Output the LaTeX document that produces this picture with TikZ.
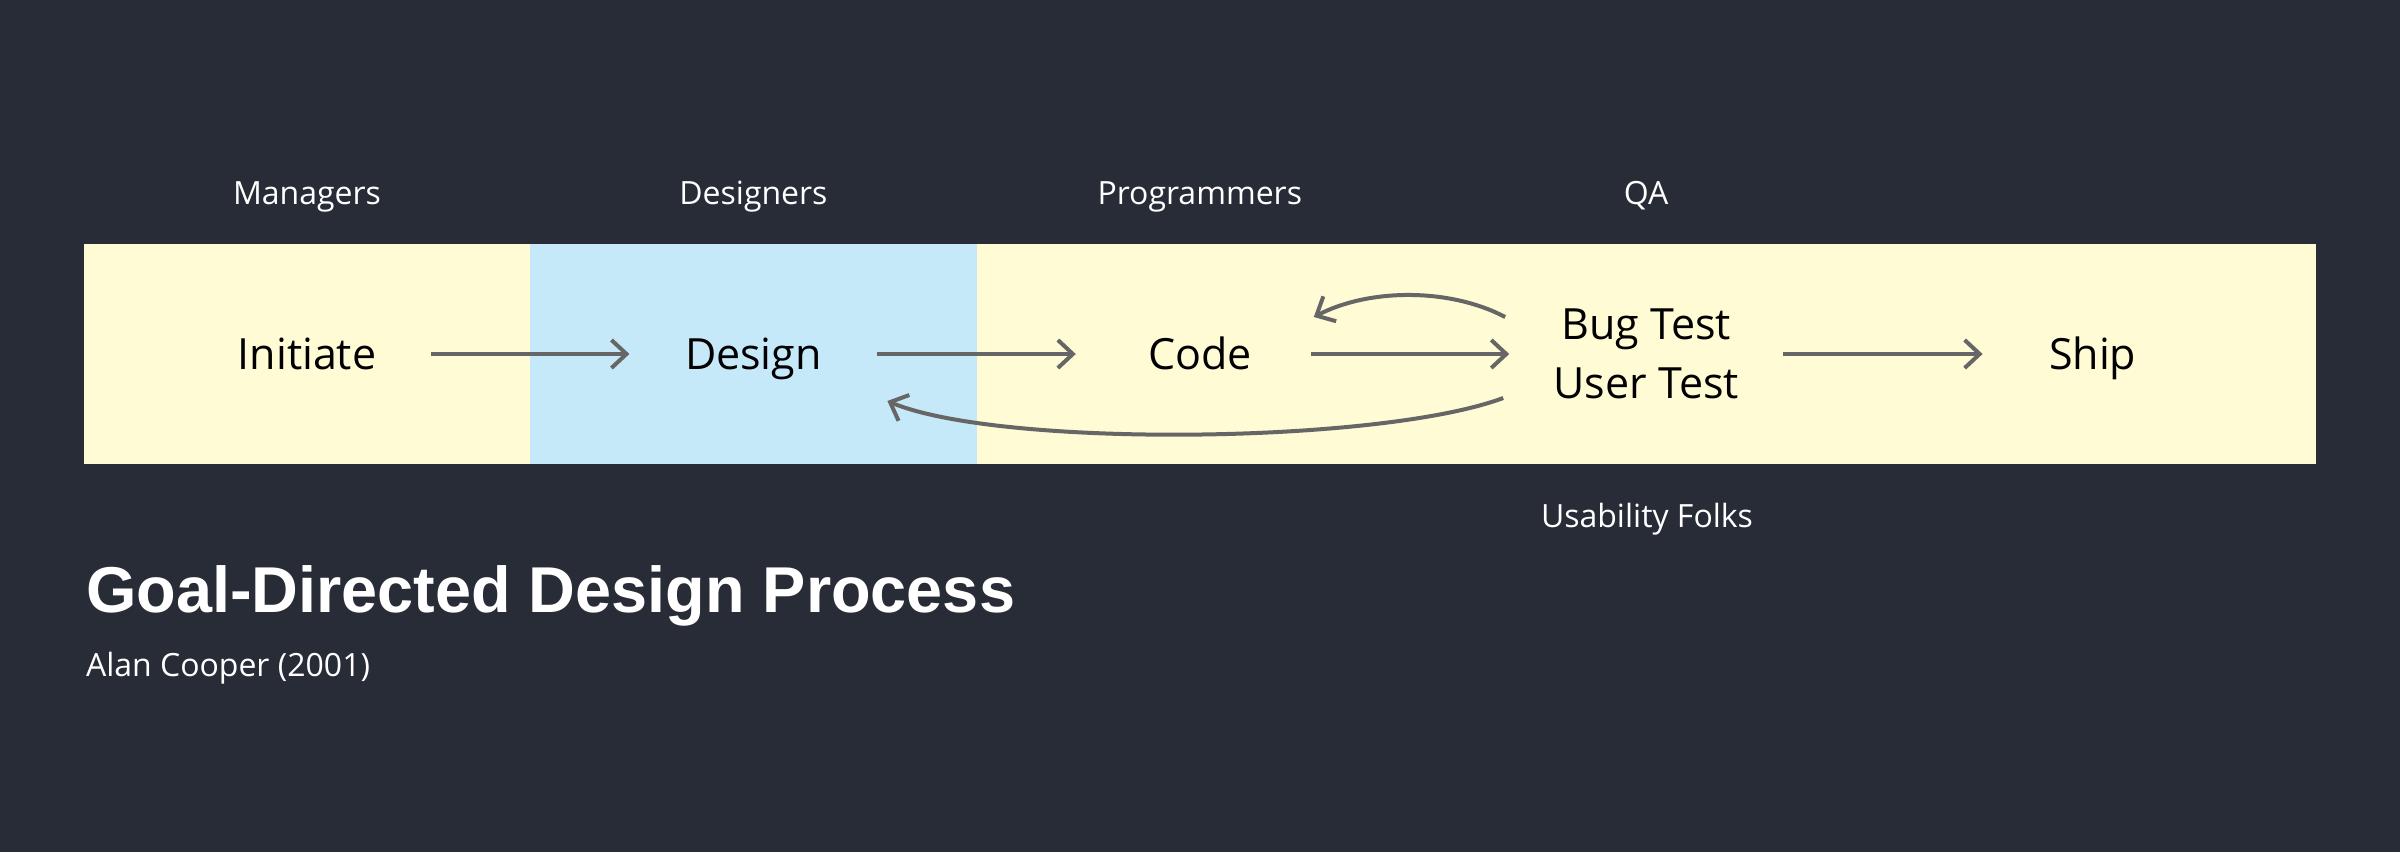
\documentclass[tikz,border=0pt]{standalone}
\usepackage{fontspec}
\setmainfont{Open Sans}
\newfontfamily\titlefont{Liberation Sans}
\usetikzlibrary{arrows.meta,calc}
\definecolor{BgColor}{HTML}{282C37}
\definecolor{LaneYellow}{HTML}{FFFBD5}
\definecolor{LaneBlue}{HTML}{C6E9F9}
\definecolor{ArrowGray}{HTML}{666666}

\begin{document}
\begin{tikzpicture}[
        %Environment config
        x=0.5pt, y=-0.5pt,
        line width=2pt,
        %Environment styles
        StageCfg/.style={
            font=\fontsize{21.5}{29.5}\selectfont,
            text=black,
            inner sep=0pt,
            minimum width=122pt,
            text height=15.4pt,
            text depth=0pt
        },
        TestCfg/.style={
            font=\fontsize{21.5}{29.5}\selectfont,
            text=black,
            inner sep=0pt,
            minimum width=135pt,
            align=center
        },
        RoleCfg/.style={
            font=\fontsize{16}{20}\selectfont,
            text=white,
            inner sep=0pt,
            anchor=base
        },
        FlowCfg/.style={
            draw=ArrowGray,
            -{Straight Barb[length=7.5pt,width=14pt]}
        }
    ]
    %background and lanes
    \fill[BgColor] (0,0) rectangle (2400,852);
    \useasboundingbox (0,0) rectangle (2400,852);
    \fill[LaneYellow] (84,244) rectangle (2316,464);
    \fill[LaneBlue] (530.4,244) rectangle (976.8,464);

    \path
        (307,354) node[StageCfg](Initiate){Initiate}
            ++ (446.4,0) node[StageCfg](Design){Design}
            ++ (446.4,0) node[StageCfg](Code){Code}
            ++ (446.4,0) node[TestCfg](Test){Bug Test\\User Test}
            ++ (446.4,0) node[StageCfg](Ship){Ship}
        (307,204) node[RoleCfg](Managers){Managers}
            ++ (446.4,0) node[RoleCfg](Designers){Designers}
            ++ (446.4,0) node[RoleCfg](Programmers){Programmers}
            ++ (446.4,0) node[RoleCfg](QA){QA}
        (1647,527) node[RoleCfg](Usability){Usability Folks};

    \draw[FlowCfg]
        (Initiate) -- (Design);
    \draw[FlowCfg]
        (Design) -- (Code);
    \draw[FlowCfg]
        ([xshift=-6.5pt]Code.east) -- (Test);
    \draw[FlowCfg]
        (Test) -- ([xshift=7pt]Ship.west);

    %loops back
    \draw[FlowCfg]
        ($(Test.west)+(-4,-37)$)
            .. controls (1450,288) and (1370,288) ..
        ($(Code.east)+(-10,-37)$);
    \draw[FlowCfg]
        ($(Test.west)+(-6,44)$)
            .. controls (1380,444) and (1000,448) ..
        ($(Design.east)+(10,47)$);

    %caption
    \node[anchor=base west, inner sep=0pt, text=white,
        font=\titlefont\bfseries\fontsize{32.4}{38}\selectfont]
        (Title) at (84,612) {Goal-Directed Design Process};
    \node[anchor=base west, inner sep=0pt, text=white,
        font=\fontsize{16}{20}\selectfont]
        (Author) at (84,676) {Alan Cooper (2001)};
\end{tikzpicture}
\end{document}
